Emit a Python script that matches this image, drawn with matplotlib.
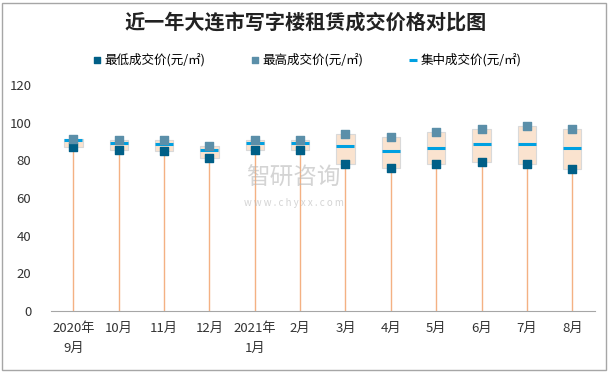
import matplotlib.pyplot as plt
from matplotlib.patches import Rectangle

plt.rcParams['font.family'] = ['Noto Sans CJK SC', 'DejaVu Sans']

months = ['2020年\n9月', '10月', '11月', '12月', '2021年\n1月', '2月',
          '3月', '4月', '5月', '6月', '7月', '8月']
low_price = [87.4, 85.8, 84.9, 81.5, 85.4, 85.4, 78.0, 76.2, 78.0, 79.4, 78.0, 75.7]
high_price = [91.6, 90.7, 90.7, 87.5, 90.7, 90.7, 94.3, 92.7, 95.0, 96.9, 98.5, 96.9]
mid_price = [90.7, 89.1, 88.6, 85.4, 89.5, 89.5, 87.9, 85.2, 86.8, 89.0, 89.0, 86.8]

fig = plt.figure(figsize=(6.12, 3.72), dpi=100)
ax = fig.add_axes([0.083, 0.164, 0.889, 0.607])

x = list(range(len(months)))

# stem from 0 up to the lowest price
ax.vlines(x, 0, low_price, color='#F4B183', lw=1.0, zorder=1)

# range box between low and high
ax.bar(x, [h - l for h, l in zip(high_price, low_price)], bottom=low_price,
       width=0.4, color='#FAE3CF', edgecolor='#D9D9D9', lw=0.8, zorder=2)

ax.scatter(x, low_price, marker='s', s=26, color='#005F87', zorder=4,
           label='最低成交价(元/㎡)')
ax.scatter(x, high_price, marker='s', s=26, color='#5B8FA9', zorder=4,
           label='最高成交价(元/㎡)')
ax.scatter(x, mid_price, marker='_', s=150, linewidths=2.2, color='#00A0E1', zorder=3,
           label='集中成交价(元/㎡)')

ax.set_xlim(-0.5, len(months) - 0.5)
ax.set_ylim(0, 120)
ax.set_yticks(range(0, 121, 20))
ax.set_xticks(x)
ax.set_xticklabels(months, fontsize=9.5, color='#333333', linespacing=1.7)
ax.tick_params(axis='y', labelsize=9.5, colors='#333333', length=0, pad=14)
ax.tick_params(axis='x', length=0, pad=8)
for s in ['top', 'right', 'left']:
    ax.spines[s].set_visible(False)
ax.spines['bottom'].set_color('#A6A6A6')

fig.text(0.5, 0.94, '近一年大连市写字楼租赁成交价格对比图', ha='center', va='center',
         fontsize=14.5, fontweight='bold', color='#222222')

leg = fig.legend(loc='center', bbox_to_anchor=(0.5, 0.84), ncol=3, frameon=False,
                 fontsize=9, handletextpad=0.1, columnspacing=3.5, handlelength=1.0)
for h in leg.legend_handles[:2]:
    h.set_sizes([22])
leg.legend_handles[2].set_sizes([40])

# watermark
fig.text(0.48, 0.52, '智研咨询', ha='center', va='center', fontsize=17,
         color='#B8B8B8', alpha=0.6)
fig.text(0.48, 0.455, 'w w w . c h y x x . c o m', ha='center', va='center',
         fontsize=7, color='#B8B8B8', alpha=0.6)

fig.patches.append(Rectangle((0.004, 0.006), 0.986, 0.986, transform=fig.transFigure,
                             fill=False, edgecolor='#A6A6A6', lw=1))

fig.savefig('out.png', dpi=100)
